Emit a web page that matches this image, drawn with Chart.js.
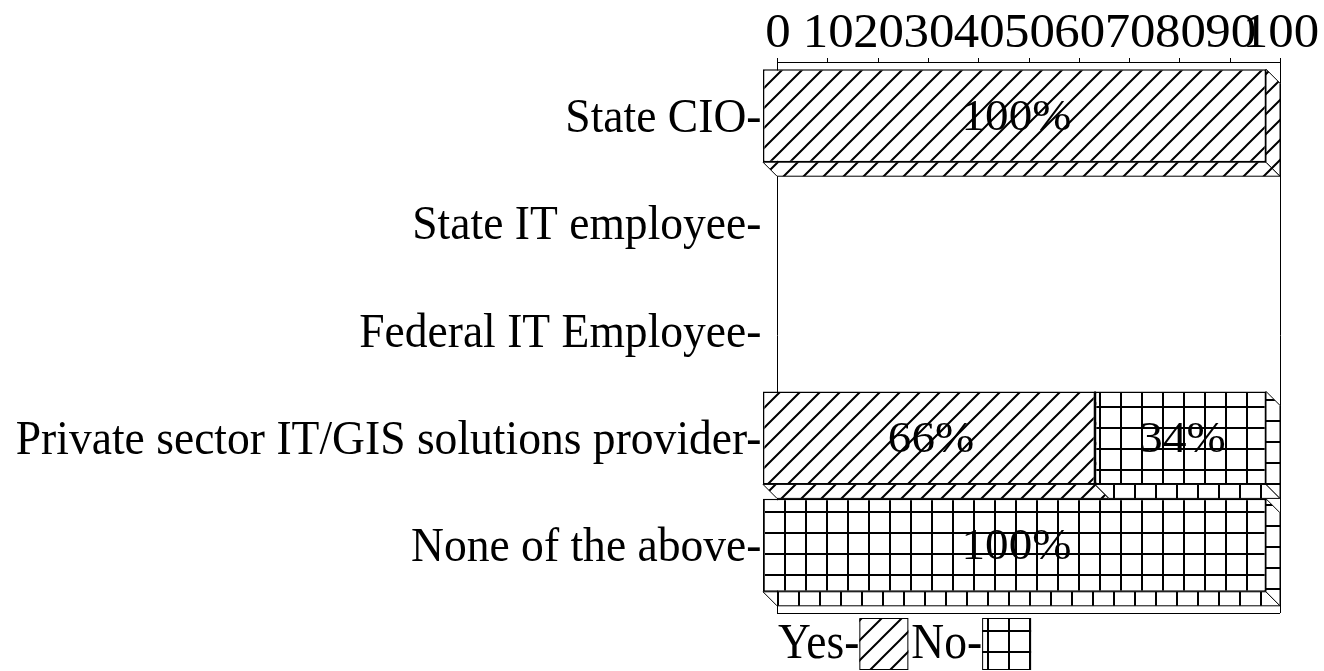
<!DOCTYPE html>
<html>
<head>
<meta charset="utf-8">
<script src="https://cdn.jsdelivr.net/npm/chart.js@4"></script>
<style>
  html, body { margin: 0; padding: 0; background: #fff; }
  canvas { display: block; }
</style>
</head>
<body>
<canvas id="myChart" width="1324" height="671"></canvas>
<script>
// chart data
const categories = ['State CIO', 'State IT employee', 'Federal IT Employee', 'Private sector IT/GIS solutions provider', 'None of the above'];
const yesValues = [100, 0, 0, 66, 0];
const noValues = [0, 0, 0, 34, 100];
const seriesNames = ['Yes', 'No'];
const xTicks = [0, 10, 20, 30, 40, 50, 60, 70, 80, 90, 100];

const FONT = '"Liberation Serif", "Times New Roman", serif';
const DX = 14, DY = 14; // 3d depth offset

function makeHatch() {
    const s = 20;
    const c = document.createElement('canvas');
    c.width = s; c.height = s;
    const g = c.getContext('2d');
    g.fillStyle = '#fff';
    g.fillRect(0, 0, s, s);
    g.strokeStyle = '#000';
    g.lineWidth = 2;
    g.beginPath();
    g.moveTo(0, s); g.lineTo(s, 0);
    g.moveTo(-3, 3); g.lineTo(3, -3);
    g.moveTo(s - 3, s + 3); g.lineTo(s + 3, s - 3);
    g.stroke();
    return g.createPattern(c, 'repeat');
}

function makeGrid() {
    const w = 21, h = 21;
    const c = document.createElement('canvas');
    c.width = w; c.height = h;
    const g = c.getContext('2d');
    g.fillStyle = '#fff';
    g.fillRect(0, 0, w, h);
    g.fillStyle = '#000';
    g.fillRect(0, 0, 2, h);
    g.fillRect(0, 0, w, 2);
    return g.createPattern(c, 'repeat');
}

const hatch = makeHatch();
const grid = makeGrid();

function drawText(ctx, text, x, y, size, sx, align) {
    ctx.save();
    ctx.translate(x, y);
    ctx.scale(sx, 1);
    ctx.font = size + 'px ' + FONT;
    ctx.fillStyle = '#000';
    ctx.textAlign = align;
    ctx.textBaseline = 'alphabetic';
    ctx.fillText(text, 0, 0);
    ctx.restore();
}

function poly(ctx, pts, fill) {
    ctx.beginPath();
    ctx.moveTo(pts[0][0], pts[0][1]);
    for (let i = 1; i < pts.length; i++) ctx.lineTo(pts[i][0], pts[i][1]);
    ctx.closePath();
    ctx.fillStyle = fill;
    ctx.fill();
    ctx.stroke();
}

function barBox(bar) {
    const p = bar.getProps(['x', 'y', 'base', 'height'], true);
    return {
        L: Math.min(p.base, p.x), R: Math.max(p.base, p.x),
        T: p.y - p.height / 2, B: p.y + p.height / 2, cy: p.y
    };
}

const bars3d = {
    id: 'bars3d',
    beforeDatasetsDraw(chart) {
        const { ctx, chartArea: a, scales: { x } } = chart;
        const top = Math.round(a.top - DY);
        ctx.save();
        ctx.strokeStyle = '#000';
        ctx.lineWidth = 1;
        ctx.beginPath();
        ctx.moveTo(a.left, top + 0.5); ctx.lineTo(a.right, top + 0.5);
        xTicks.forEach(v => {
            const px = Math.round(x.getPixelForValue(v)) + 0.5;
            ctx.moveTo(px, top - 4); ctx.lineTo(px, top + 1);
        });
        ctx.moveTo(Math.round(a.left) + 0.5, top - 4); ctx.lineTo(Math.round(a.left) + 0.5, a.bottom);
        ctx.moveTo(Math.round(a.right) + 0.5, top - 4); ctx.lineTo(Math.round(a.right) + 0.5, a.bottom);
        ctx.moveTo(a.left, Math.round(a.bottom) + 0.5); ctx.lineTo(a.right, Math.round(a.bottom) + 0.5);
        ctx.stroke();

        // side and bottom faces of every bar
        chart.data.datasets.forEach((ds, i) => {
            chart.getDatasetMeta(i).data.forEach((bar, j) => {
                if (!ds.data[j]) return;
                const b = barBox(bar);
                poly(ctx, [[b.L - DX, b.B - DY], [b.R - DX, b.B - DY], [b.R, b.B], [b.L, b.B]], ds.backgroundColor);
                poly(ctx, [[b.R - DX, b.T - DY], [b.R, b.T], [b.R, b.B], [b.R - DX, b.B - DY]], ds.backgroundColor);
            });
        });
        // front faces are drawn by Chart.js, shifted up-left
        ctx.translate(-DX, -DY);
    },
    afterDatasetsDraw(chart) {
        const { ctx, chartArea: a, scales: { x, y } } = chart;
        ctx.restore();

        // value labels
        chart.data.datasets.forEach((ds, i) => {
            chart.getDatasetMeta(i).data.forEach((bar, j) => {
                const v = ds.data[j];
                if (!v) return;
                const b = barBox(bar);
                drawText(ctx, v + '%', (b.L + b.R) / 2 - DX + 2, b.cy - DY + 14, 44, 1.07, 'center');
            });
        });

        // category labels
        categories.forEach((c, j) => {
            drawText(ctx, c + '-', a.left - 15.5, y.getPixelForValue(j) + 2, 49, 0.93, 'right');
        });

        // top tick labels
        xTicks.forEach(v => {
            drawText(ctx, String(v), x.getPixelForValue(v) + 1, 47, 48, 1.06, 'center');
        });

        // legend
        const fills = chart.data.datasets.map(d => d.backgroundColor);
        let lx = a.left + 1;
        ctx.save();
        seriesNames.forEach((name, i) => {
            const t = name + '-';
            drawText(ctx, t, lx, 658, 50, 0.91, 'left');
            ctx.font = '50px ' + FONT;
            lx += ctx.measureText(t).width * 0.91;
            ctx.strokeStyle = '#000';
            ctx.lineWidth = 1;
            ctx.fillStyle = fills[i];
            ctx.fillRect(lx, 618, 49, 52);
            ctx.strokeRect(lx + 0.5, 618.5, 48, 51);
            lx += 49 + 3;
        });
        ctx.restore();
    }
};

const ctx = document.getElementById('myChart').getContext('2d');
const myChart = new Chart(ctx, {
    type: 'bar',
    data: {
        labels: categories,
        datasets: [{
            label: seriesNames[0],
            data: yesValues,
            backgroundColor: hatch,
            borderColor: '#000',
            borderWidth: c => (c.raw ? 1.5 : 0),
            borderSkipped: false,
            clip: false
        }, {
            label: seriesNames[1],
            data: noValues,
            backgroundColor: grid,
            borderColor: '#000',
            borderWidth: c => (c.raw ? 1.5 : 0),
            borderSkipped: false,
            clip: false
        }]
    },
    options: {
        indexAxis: 'y',
        responsive: false,
        animation: false,
        layout: { padding: { left: 777, right: 44, top: 76, bottom: 58 } },
        datasets: { bar: { categoryPercentage: 1, barPercentage: 0.866 } },
        plugins: { legend: { display: false }, tooltip: { enabled: false } },
        scales: {
            x: { display: false, stacked: true, min: 0, max: 100, position: 'top' },
            y: { display: false, stacked: true }
        }
    },
    plugins: [bars3d]
});
</script>
</body>
</html>
